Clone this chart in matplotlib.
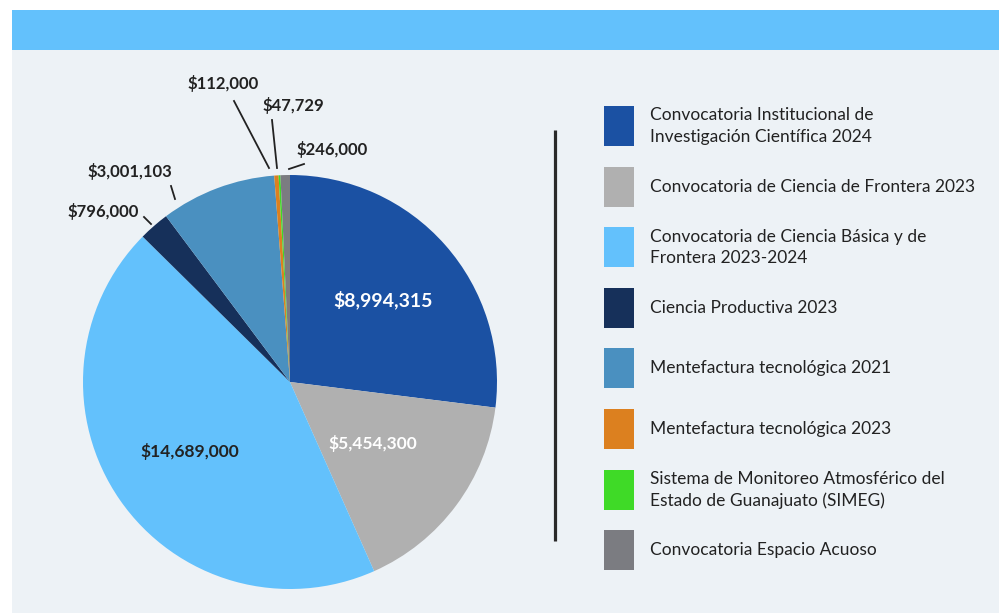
import numpy as np
import matplotlib
matplotlib.use("Agg")
import matplotlib.pyplot as plt
from matplotlib.patches import Rectangle

W, H = 999, 613

categorias = [
    "Convocatoria Institucional de\nInvestigación Científica 2024",
    "Convocatoria de Ciencia de Frontera 2023",
    "Convocatoria de Ciencia Básica y de\nFrontera 2023-2024",
    "Ciencia Productiva 2023",
    "Mentefactura tecnológica 2021",
    "Mentefactura tecnológica 2023",
    "Sistema de Monitoreo Atmosférico del\nEstado de Guanajuato (SIMEG)",
    "Convocatoria Espacio Acuoso",
]
montos = [8994315, 5454300, 14689000, 796000, 3001103, 112000, 47729, 246000]
colores = ["#1b51a3", "#b0b0b0", "#63c1fc", "#16305a",
           "#4a90c0", "#dc801f", "#3fda27", "#7b7c81"]

plt.rcParams['font.family'] = ['Lato', 'DejaVu Sans']

fig = plt.figure(figsize=(W / 100, H / 100), dpi=100)
fig.patch.set_facecolor("white")

# fondo + banda superior
bg = fig.add_axes([0, 0, 1, 1], zorder=0)
bg.set_xlim(0, W)
bg.set_ylim(H, 0)
bg.axis("off")
bg.add_patch(Rectangle((12, 50), W - 12, H - 50, color="#edf2f6", lw=0))
bg.add_patch(Rectangle((12, 10), W - 12, 40, color="#63c1fc", lw=0))

# pastel
cx, cy, r = 290, 382, 207
ax = fig.add_axes([(cx - r) / W, (H - cy - r) / H, 2 * r / W, 2 * r / H], zorder=1)
wedges, _ = ax.pie(montos, colors=colores, startangle=90, counterclock=False,
                   wedgeprops=dict(linewidth=0))
ax.set_xlim(-1, 1)
ax.set_ylim(-1, 1)
ax.set_aspect("auto")
ax.axis("off")

def fmt(v):
    return "${:,}".format(v)

# etiquetas internas (radio relativo, tamano, color)
internas = {0: (0.60, 14, "white"), 1: (0.50, 12.5, "white"), 2: (0.59, 12.5, "#222222")}
for i, (dist, fs, col) in internas.items():
    w = wedges[i]
    ang = np.deg2rad((w.theta1 + w.theta2) / 2)
    ax.text(dist * np.cos(ang), dist * np.sin(ang), fmt(montos[i]),
            ha="center", va="center", fontsize=fs, fontweight="bold", color=col)

# capa superior en pixeles
top = fig.add_axes([0, 0, 1, 1], zorder=2)
top.set_xlim(0, W)
top.set_ylim(H, 0)
top.axis("off")
top.patch.set_alpha(0)

# etiquetas externas: indice -> (texto x, y, inicio linea, fin linea)
externas = {
    3: ((103, 212), (144, 217), (151, 224)),
    4: ((130, 172), (171, 186), (175, 199)),
    5: ((223, 84), (234, 101), (269, 168)),
    6: ((293, 106), (272, 120), (277, 168)),
    7: ((332, 150), (304, 164), (289, 169)),
}
for i, (tp, p0, p1) in externas.items():
    top.text(tp[0], tp[1], fmt(montos[i]), ha="center", va="center",
             fontsize=12, fontweight="bold", color="#222222")
    top.plot([p0[0], p1[0]], [p0[1], p1[1]], color="#222222", lw=1.3)

# separador
top.plot([555, 555], [130, 541], color="#2a2a2a", lw=2.3, solid_capstyle="butt")

# leyenda
y0, paso = 106, 60.6
for k, (lab, col) in enumerate(zip(categorias, colores)):
    y = y0 + k * paso
    top.add_patch(Rectangle((604, y), 30, 40, color=col, lw=0))
    top.text(650, y + 20, lab, ha="left", va="center", fontsize=12.5,
             color="#222222", linespacing=1.4)

fig.savefig("out.png", dpi=100, facecolor=fig.get_facecolor())
